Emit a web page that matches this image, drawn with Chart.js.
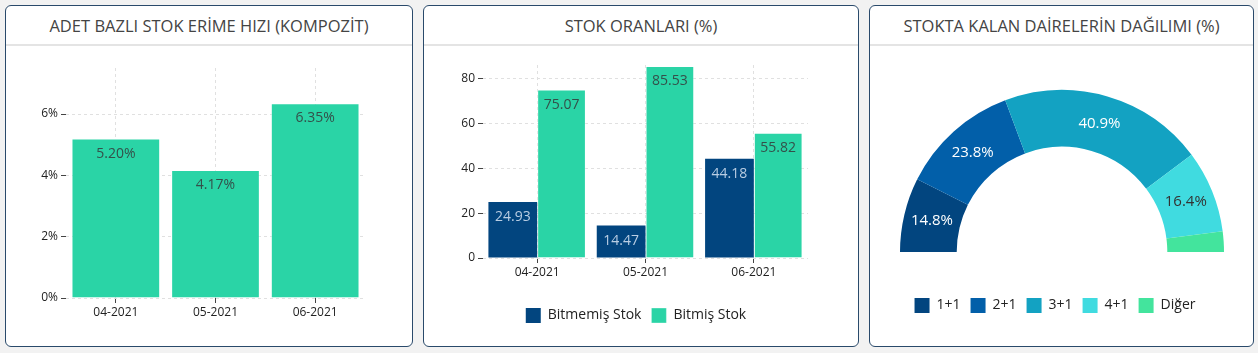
<!DOCTYPE html>
<html>
<head>
<meta charset="utf-8">
<script src="https://cdn.jsdelivr.net/npm/chart.js@4.4.1/dist/chart.umd.min.js"></script>
<style>
body { margin:0; background:#f2f2f2; font-family:'Open Sans', sans-serif; width:1258px; height:353px; position:relative; overflow:hidden; }
.panel { position:absolute; top:5px; height:342px; box-sizing:border-box; background:#fff; border:1px solid #2a4a6b; border-radius:6px; }
.head { height:38px; border-bottom:2px solid #e4e4e4; text-align:center; line-height:40px; font-size:16.5px; color:#444; }
.body { position:absolute; left:0; right:0; top:40px; bottom:0; }
</style>
</head>
<body>
<div class="panel" style="left:5px;width:408px">
  <div class="head">ADET BAZLI STOK ERİME HIZI (KOMPOZİT)</div>
  <div class="body"><canvas id="c1"></canvas></div>
</div>
<div class="panel" style="left:423px;width:436px">
  <div class="head">STOK ORANLARI (%)</div>
  <div class="body"><canvas id="c2"></canvas></div>
</div>
<div class="panel" style="left:869px;width:385px">
  <div class="head">STOKTA KALAN DAİRELERİN DAĞILIMI (%)</div>
  <div class="body"><canvas id="c3"></canvas></div>
</div>
<script>
// data
const months = ['04-2021', '05-2021', '06-2021'];
const erimeHizi = [5.20, 4.17, 6.35];
const bitmemisStok = [24.93, 14.47, 44.18];
const bitmisStok = [75.07, 85.53, 55.82];
const daireTipleri = ['1+1', '2+1', '3+1', '4+1', 'Diğer'];
const daireDagilimi = [14.8, 23.8, 40.9, 16.4, 4.1];
const yTicks1 = [0, 2, 4, 6];
const yTicks2 = [0, 20, 40, 60, 80];

const green = '#2ad4a6';
const navy = '#02457f';
const barEdge = 'rgba(255,255,255,0.35)';

// draws the value text on each bar / slice
const valueLabels = {
    id: 'valueLabels',
    afterDatasetsDraw(chart, args, opts) {
        const ctx = chart.ctx;
        ctx.save();
        ctx.font = opts.font;
        ctx.textAlign = 'center';
        ctx.textBaseline = 'middle';
        chart.data.datasets.forEach((ds, i) => {
            const meta = chart.getDatasetMeta(i);
            meta.data.forEach((el, j) => {
                const v = ds.data[j];
                if (opts.hideBelow && v < opts.hideBelow) return;
                let x, y;
                if (meta.type === 'doughnut') {
                    const p = el.getCenterPoint();
                    x = p.x; y = p.y;
                } else {
                    x = el.x; y = el.y + opts.offset;
                }
                const c = ds.labelColor;
                ctx.fillStyle = Array.isArray(c) ? c[j] : c;
                ctx.fillText(opts.format(v), x, y);
            });
        });
        ctx.restore();
    }
};

// nudge the legend sideways without moving the chart
const legendShift = {
    id: 'legendShift',
    afterLayout(chart, args, opts) {
        if (chart.legend && opts.dx) {
            chart.legend.left += opts.dx;
            chart.legend.right += opts.dx;
        }
    }
};

const gridOpts = { color: '#e0e0e0', tickColor: '#444', tickLength: 5 };
const tickFont = { family: 'Open Sans', size: 12 };

new Chart(document.getElementById('c1'), {
    type: 'bar',
    data: {
        labels: months,
        datasets: [{ data: erimeHizi, backgroundColor: green, borderColor: barEdge, borderWidth: 1, categoryPercentage: 0.89, barPercentage: 1, labelColor: '#34504a' }]
    },
    options: {
        responsive: true, maintainAspectRatio: false, animation: false,
        layout: { padding: { left: 0, right: 47, top: 22, bottom: 0 } },
        plugins: {
            legend: { display: false }, tooltip: { enabled: false },
            valueLabels: { format: v => v.toFixed(2) + '%', offset: 15, font: '14px "Open Sans"' }
        },
        scales: {
            x: {
                grid: Object.assign({ offset: false }, gridOpts),
                border: { display: false, dash: [3, 3] },
                ticks: { color: '#222', font: tickFont, padding: 2 },
                afterFit(s) { s.height = 48; }
            },
            y: {
                min: 0, max: 7.5,
                afterBuildTicks(s) { s.ticks = yTicks1.map(v => ({ value: v })); },
                grid: gridOpts,
                border: { display: false, dash: [3, 3] },
                ticks: { color: '#222', font: tickFont, padding: 3, callback: v => v + '%' },
                afterFit(s) { s.width = 60; }
            }
        }
    },
    plugins: [valueLabels]
});

new Chart(document.getElementById('c2'), {
    type: 'bar',
    data: {
        labels: months,
        datasets: [
            { label: 'Bitmemiş Stok', data: bitmemisStok, backgroundColor: navy, borderWidth: 0, categoryPercentage: 0.9, barPercentage: 1, labelColor: '#b9cde3' },
            { label: 'Bitmiş Stok', data: bitmisStok, backgroundColor: green, borderColor: barEdge, borderWidth: 1, categoryPercentage: 0.9, barPercentage: 1, labelColor: '#34504a' }
        ]
    },
    options: {
        responsive: true, maintainAspectRatio: false, animation: false,
        layout: { padding: { left: 0, right: 10, top: 19, bottom: 13 } },
        plugins: {
            legend: {
                position: 'bottom',
                labels: { boxWidth: 15, boxHeight: 15, padding: 10, color: '#222', font: { family: 'Open Sans', size: 14 } }
            },
            tooltip: { enabled: false },
            valueLabels: { format: v => v.toFixed(2), offset: 15, font: '14px "Open Sans"' }
        },
        scales: {
            x: {
                grid: Object.assign({ offset: false }, gridOpts),
                border: { display: false, dash: [3, 3] },
                ticks: { color: '#222', font: tickFont, padding: 2 },
                afterFit(s) { s.height = 40; }
            },
            y: {
                min: 0, max: 86,
                afterBuildTicks(s) { s.ticks = yTicks2.map(v => ({ value: v })); },
                grid: gridOpts,
                border: { display: false, dash: [3, 3] },
                ticks: { color: '#222', font: tickFont, padding: 3 },
                afterFit(s) { s.width = 59; }
            },
            // empty right margin so the legend centres like the reference
            yRight: {
                position: 'right',
                grid: { drawOnChartArea: false, drawTicks: false },
                border: { display: false },
                ticks: { display: false },
                afterFit(s) { s.width = 40; }
            }
        }
    },
    plugins: [valueLabels]
});

new Chart(document.getElementById('c3'), {
    type: 'doughnut',
    data: {
        labels: daireTipleri,
        datasets: [{
            data: daireDagilimi,
            backgroundColor: ['#02457f', '#025fa9', '#13a2c2', '#40dbe0', '#43e49d'],
            borderWidth: 0,
            labelColor: ['#fff', '#fff', '#fff', '#333', '#333']
        }]
    },
    options: {
        responsive: true, maintainAspectRatio: false, animation: false,
        rotation: -90, circumference: 180, cutout: '65%',
        layout: { padding: { left: 30, right: 29, top: 8, bottom: 23 } },
        plugins: {
            legend: {
                position: 'bottom',
                labels: { boxWidth: 15, boxHeight: 15, padding: 10, color: '#222', font: { family: 'Open Sans', size: 14 } }
            },
            legendShift: { dx: -7 },
            tooltip: { enabled: false },
            valueLabels: { format: v => v.toFixed(1) + '%', hideBelow: 5, font: '15px "Open Sans"' }
        }
    },
    plugins: [valueLabels, legendShift]
});
</script>
</body>
</html>
